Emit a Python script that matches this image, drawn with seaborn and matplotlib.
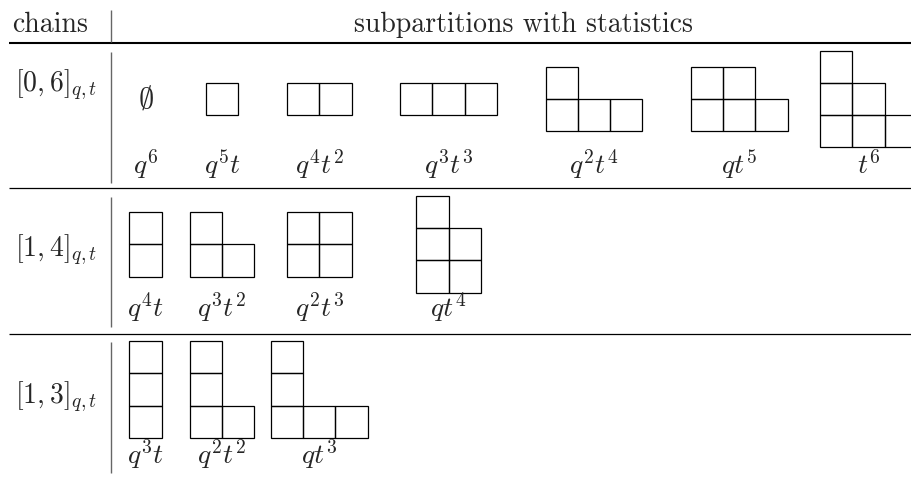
import matplotlib
matplotlib.use("Agg")
import matplotlib.pyplot as plt
from matplotlib.patches import Rectangle
import seaborn as sns

# chain names and the subpartitions (row lengths, bottom row first)
chains = [r"$[0,6]_{q{,}\,t}$", r"$[1,4]_{q{,}\,t}$", r"$[1,3]_{q{,}\,t}$"]
parts_06 = [[], [1], [2], [3], [3, 1], [3, 2], [3, 2, 1]]
parts_14 = [[1, 1], [2, 1], [2, 2], [2, 2, 1]]
parts_13 = [[1, 1, 1], [2, 1, 1], [3, 1, 1]]
stats_06 = ["q^6", "q^5t", "q^4t^2", "q^3t^3", "q^2t^4", "qt^5", "t^6"]
stats_14 = ["q^4t", "q^3t^2", "q^2t^3", "qt^4"]
stats_13 = ["q^3t", "q^2t^2", "qt^3"]
header = ["chains", "subpartitions with statistics"]

parts = [parts_06, parts_14, parts_13]
stats = [stats_06, stats_14, stats_13]

sns.set_theme(style="white")
plt.rcParams["font.family"] = ["cmr10", "DejaVu Serif"]
plt.rcParams["mathtext.fontset"] = "cm"
plt.rcParams["axes.unicode_minus"] = False

fig = plt.figure(figsize=(9.11, 4.78), dpi=100)
ax = fig.add_axes([0, 0, 1, 1])
ax.set_xlim(0, 911)
ax.set_ylim(478, 0)
ax.axis("off")

cell = 32.2
col_x = [145.5, 222, 319.3, 448.5, 594, 739.3, 868.5]
row_mid = [99, 244.3, 389.5]
row_base = [174, 317.5, 464]
chain_base = [91.5, 256, 403]
fs = 20

# header
ax.text(50, 32, header[0], ha="center", va="baseline", fontsize=fs)
ax.text(524, 32, header[1], ha="center", va="baseline", fontsize=fs)

# rules
ax.plot([9, 911], [42.7, 42.7], color="black", lw=1.5, solid_capstyle="butt")
for y in [188, 334]:
    ax.plot([9, 911], [y, y], color="black", lw=0.9, solid_capstyle="butt")
for y0, y1 in [(10, 42), (52, 183), (196.7, 326.7), (342, 473)]:
    ax.plot([110.7, 110.7], [y0, y1], color="#666666", lw=1.0, solid_capstyle="butt")

for i, name in enumerate(chains):
    ax.text(15, chain_base[i], name, ha="left", va="baseline", fontsize=fs)
    for j, p in enumerate(parts[i]):
        cx, cy = col_x[j], row_mid[i]
        if not p:
            ax.text(cx, cy, r"$\emptyset$", ha="center", va="center", fontsize=fs + 2)
        else:
            w = max(p) * cell
            h = len(p) * cell
            left = cx - w / 2
            bottom = cy + h / 2
            for r, n in enumerate(p):
                for c in range(n):
                    ax.add_patch(Rectangle((left + c * cell, bottom - (r + 1) * cell), cell, cell,
                                           fill=False, edgecolor="black", lw=0.9))
        ax.text(cx, row_base[i], "$" + stats[i][j] + "$", ha="center", va="baseline", fontsize=fs)

fig.savefig("out.png", dpi=100)
